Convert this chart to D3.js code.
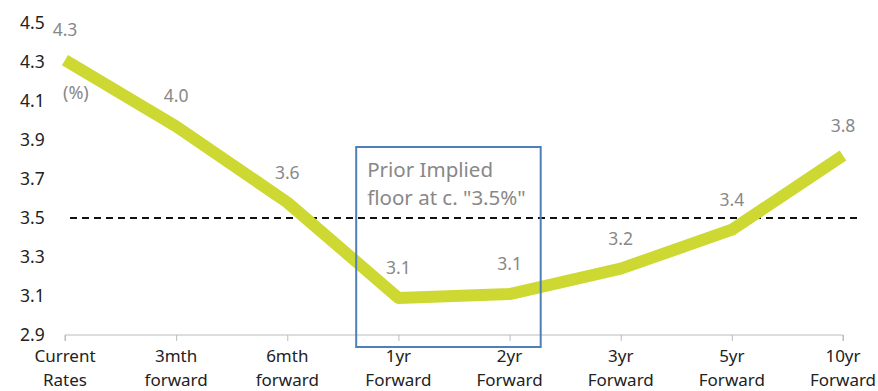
<!DOCTYPE html>
<html><head><meta charset="utf-8">
<script src="https://cdn.jsdelivr.net/npm/d3@7"></script>
<style>body{margin:0;background:#fff;}svg{display:block;font-family:"Noto Sans",sans-serif;}</style>
</head><body><svg id="c" width="878" height="391"></svg>
<script>
const categories = [["Current","Rates"],["3mth","forward"],["6mth","forward"],["1yr","Forward"],["2yr","Forward"],["3yr","Forward"],["5yr","Forward"],["10yr","Forward"]];
const values = [4.31, 3.97, 3.58, 3.09, 3.11, 3.24, 3.44, 3.82];
const valueLabels = ["4.3","4.0","3.6","3.1","3.1","3.2","3.4","3.8"];
const yTicks = [2.9, 3.1, 3.3, 3.5, 3.7, 3.9, 4.1, 4.3, 4.5];
const floorLevel = 3.5;
const annotation = ["Prior Implied", "floor at c. \"3.5%\""];

const svg = d3.select("#c");
const x = d3.scalePoint().domain(d3.range(categories.length)).range([65, 843]);
const y = d3.scaleLinear().domain([2.9, 4.5]).range([335, 23]);

// y tick labels
svg.append("g").selectAll("text").data(yTicks).join("text")
  .attr("x", 20).attr("y", d => y(d)).attr("dy", "0.35em")
  .attr("font-size", 17.5).attr("fill", "#222").text(d => d.toFixed(1));

// x axis
const xa = svg.append("g").attr("transform", `translate(0,${y(2.9)})`)
  .call(d3.axisBottom(x).tickSize(6).tickFormat(""));
xa.select(".domain").attr("stroke", "#bbb").attr("d", `M${x(0)},6V0H${x(7)}V6`);
xa.selectAll(".tick line").attr("stroke", "#bbb");

// x labels
const xl = svg.append("g").selectAll("text").data(categories).join("text")
  .attr("x", (d, i) => x(i)).attr("y", 362).attr("text-anchor", "middle")
  .attr("font-size", 17).attr("fill", "#222");
xl.each(function(d){
  d3.select(this).selectAll("tspan").data(d).join("tspan")
    .attr("x", d3.select(this).attr("x")).attr("dy", (t, j) => j ? 23.5 : 0).text(t => t);
});

// dashed floor line
svg.append("line").attr("x1", 70).attr("x2", 858)
  .attr("y1", y(floorLevel)).attr("y2", y(floorLevel))
  .attr("stroke", "#111").attr("stroke-width", 2).attr("stroke-dasharray", "7,5");

// main line
svg.append("path").datum(values)
  .attr("d", d3.line().x((d, i) => x(i)).y(d => y(d)))
  .attr("fill", "none").attr("stroke", "#cdd932").attr("stroke-width", 12)
  .attr("stroke-linejoin", "round").attr("stroke-linecap", "butt");

// value labels
svg.append("g").selectAll("text").data(values).join("text")
  .attr("x", (d, i) => x(i)).attr("y", d => y(d) - 30).attr("dy", "0.35em")
  .attr("text-anchor", "middle").attr("font-size", 17.5).attr("fill", "#888")
  .text((d, i) => valueLabels[i]);

// (%) label
svg.append("text").attr("x", 63).attr("y", 93).attr("dy", "0.35em")
  .attr("font-size", 18).attr("fill", "#888").text("(%)");

// annotation box
const step = x(1) - x(0);
const bx0 = x(3) - step * 0.38, bx1 = x(4) + step * 0.28;
svg.append("rect").attr("x", bx0).attr("y", 147).attr("width", bx1 - bx0).attr("height", 200)
  .attr("fill", "none").attr("stroke", "#4f7fb8").attr("stroke-width", 2);

svg.append("g").selectAll("text").data(annotation).join("text")
  .attr("x", bx0 + 11).attr("y", (d, i) => 177 + i * 28)
  .attr("font-size", 20.5).attr("fill", "#888").text(d => d);
</script></body></html>
